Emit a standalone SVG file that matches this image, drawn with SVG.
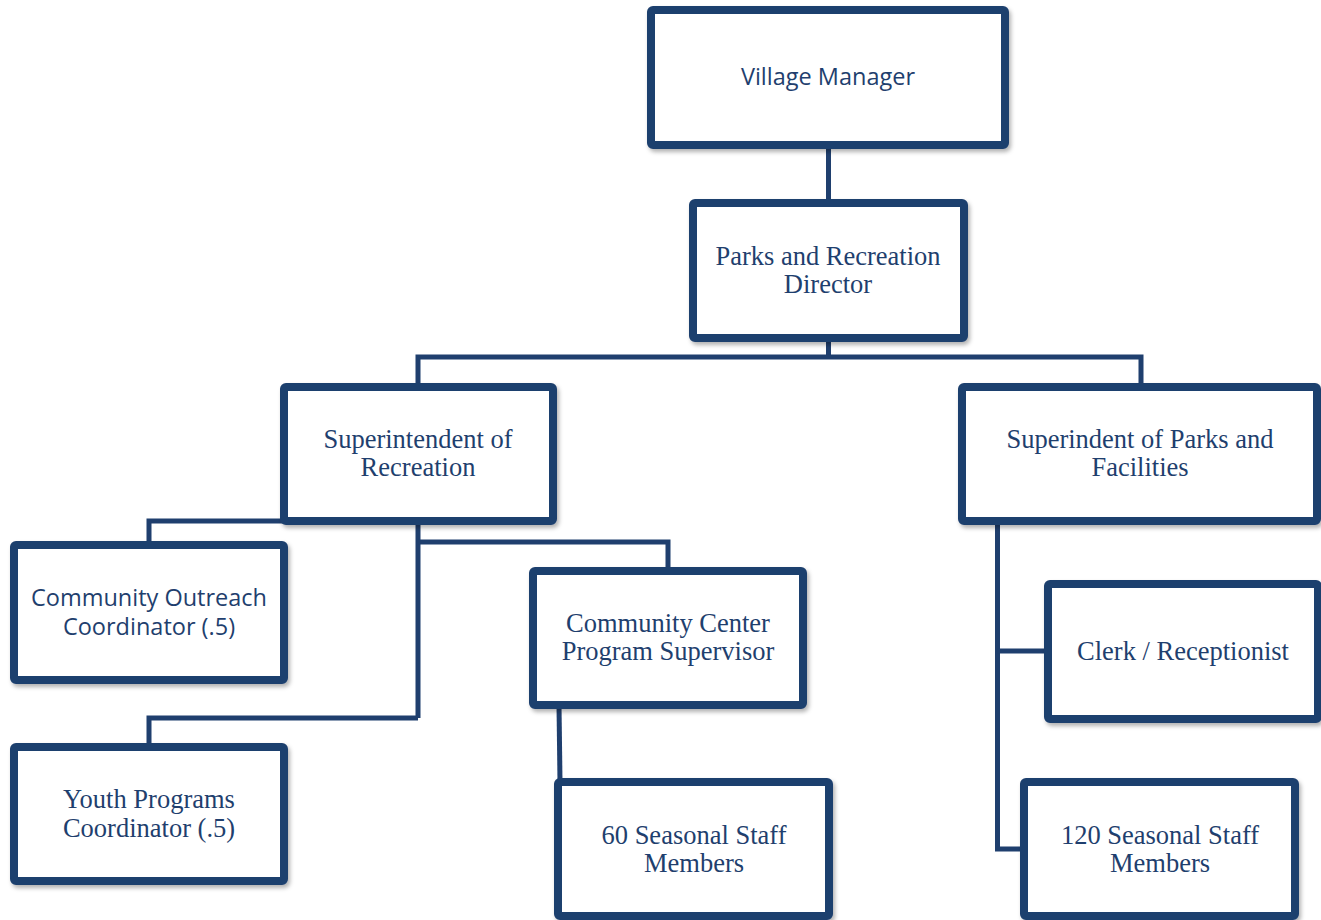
<svg xmlns="http://www.w3.org/2000/svg" width="1321" height="920" viewBox="0 0 1321 920">
<defs>
<filter id="sh" x="-10%" y="-10%" width="130%" height="130%">
<feDropShadow dx="2" dy="3" stdDeviation="2" flood-color="#000" flood-opacity="0.3"/>
</filter>
</defs>
<style>
.box{fill:#fff;stroke:#1F3F6E;stroke-width:8;filter:url(#sh)}
.ln{fill:none;stroke:#1F3F6E;stroke-width:5;stroke-linejoin:miter}
.s{font-family:"Open Sans","Liberation Sans",sans-serif;font-size:23.5px;fill:#1F3F6E;text-anchor:middle}
.t{font-family:"Liberation Serif","Times New Roman",serif;font-size:26.5px;fill:#1F3F6E;text-anchor:middle}
</style>
<rect width="1321" height="920" fill="#fff"/>
<g id="connectors">
<line class="ln" x1="828.5" y1="145" x2="828.5" y2="203"/>
<line class="ln" x1="828.5" y1="338" x2="828.5" y2="357"/>
<polyline class="ln" points="418,387 418,357 1141,357 1141,387"/>
<polyline class="ln" points="284,521 149,521 149,545"/>
<line class="ln" x1="418" y1="521" x2="418" y2="718"/>
<polyline class="ln" points="418,718 149,718 149,747"/>
<polyline class="ln" points="418,542 668,542 668,571"/>
<line class="ln" x1="559" y1="705" x2="560" y2="782"/>
<polyline class="ln" points="997.5,521 997.5,849 1024,849"/>
<line class="ln" x1="997.5" y1="651" x2="1048" y2="651"/>
</g>
<g id="village-manager">
<rect class="box" x="651" y="10" width="354" height="135" rx="2"/>
<text class="s" x="828" y="85">Village Manager</text>
</g>
<g id="director">
<rect class="box" x="693" y="203" width="271" height="135" rx="2"/>
<text class="t" x="828" y="265">Parks and Recreation</text>
<text class="t" x="828" y="293">Director</text>
</g>
<g id="supt-recreation">
<rect class="box" x="284" y="387" width="269" height="134" rx="2"/>
<text class="t" x="418" y="448">Superintendent of</text>
<text class="t" x="418" y="476">Recreation</text>
</g>
<g id="supt-parks">
<rect class="box" x="962" y="387" width="355" height="134" rx="2"/>
<text class="t" x="1140" y="448">Superindent of Parks and</text>
<text class="t" x="1140" y="476">Facilities</text>
</g>
<g id="outreach">
<rect class="box" x="14" y="545" width="270" height="135" rx="2"/>
<text class="s" x="149" y="606">Community Outreach</text>
<text class="s" x="149" y="635">Coordinator (.5)</text>
</g>
<g id="youth">
<rect class="box" x="14" y="747" width="270" height="134" rx="2"/>
<text class="t" x="149" y="808">Youth Programs</text>
<text class="t" x="149" y="837">Coordinator (.5)</text>
</g>
<g id="community-center">
<rect class="box" x="533" y="571" width="270" height="134" rx="2"/>
<text class="t" x="668" y="632">Community Center</text>
<text class="t" x="668" y="660">Program Supervisor</text>
</g>
<g id="seasonal-60">
<rect class="box" x="558" y="782" width="271" height="134" rx="2"/>
<text class="t" x="694" y="844">60 Seasonal Staff</text>
<text class="t" x="694" y="872">Members</text>
</g>
<g id="clerk">
<rect class="box" x="1048" y="584" width="270" height="135" rx="2"/>
<text class="t" x="1183" y="660">Clerk / Receptionist</text>
</g>
<g id="seasonal-120">
<rect class="box" x="1024" y="782" width="271" height="134" rx="2"/>
<text class="t" x="1160" y="844">120 Seasonal Staff</text>
<text class="t" x="1160" y="872">Members</text>
</g>
</svg>
